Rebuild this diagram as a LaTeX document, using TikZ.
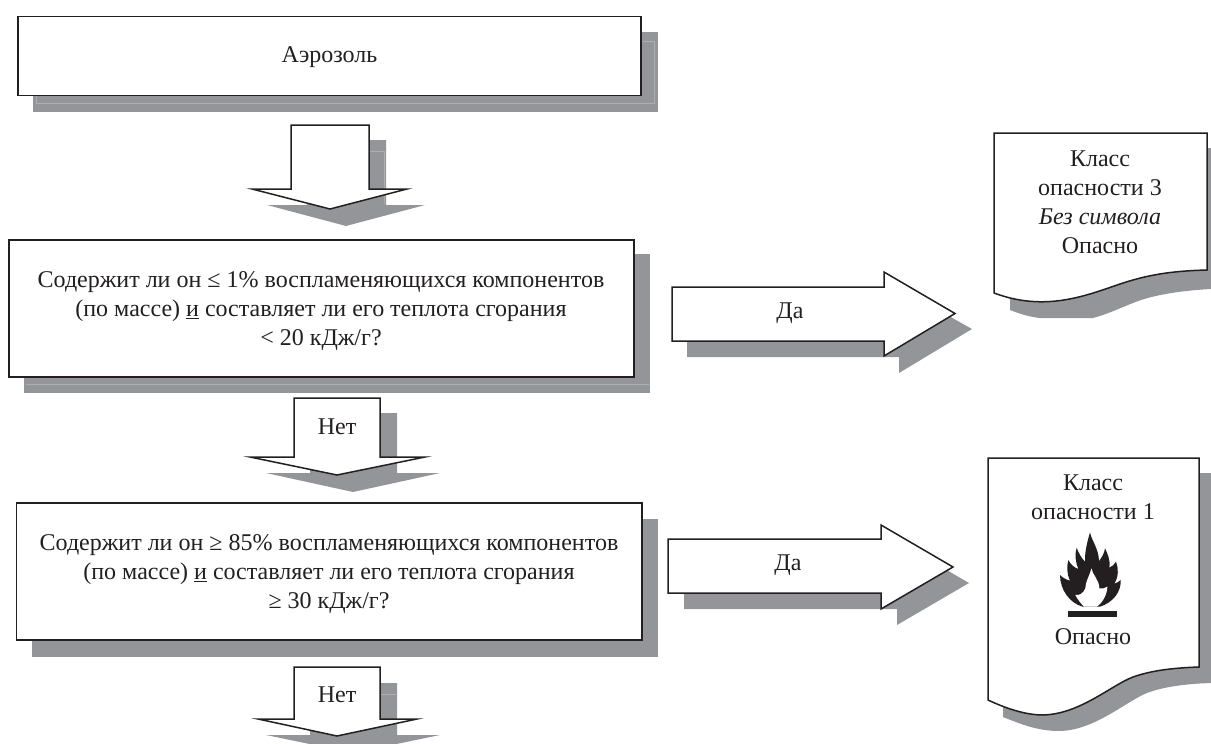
\documentclass[tikz,border=0pt]{standalone}
\usepackage{fontspec}
\setmainfont{Liberation Serif}
\definecolor{shade}{HTML}{939598}
\definecolor{ink}{HTML}{231F20}
\tikzset{
  shadowshape/.style={fill=shade,draw=none},
  frameshape/.style={fill=white,draw=ink,line width=1.5pt,line join=miter},
  label/.style={inner sep=0pt,text=ink,align=center,font=\fontsize{24}{29}\selectfont},
  glint/.style={draw=white,draw opacity=.25,line width=.6pt}
}
\begin{document}
\begin{tikzpicture}[x=1pt,y=-1pt]
\useasboundingbox (0,0) rectangle (1211,744);
\clip (0,0) rectangle (1211,744);
\fill[white] (0,0) rectangle (1211,744);
% box 1
\fill[shadowshape] (33,32) rectangle (658,112);
\draw[glint] (36,41) rectangle (654,103);
\draw[frameshape] (18,16.5) rectangle (641,95.5);
\node[label] (aerosol) at (329.5,57) {Аэрозоль};
% arrow 1
\fill[shadowshape] (307,140) -- (386,140) -- (386,205) -- (425,205) -- (346,226) -- (267,205) -- (307,205) -- cycle;
\draw[glint] (330,151) -- (384,151) -- (384,204);
\draw[frameshape] (291,125) -- (369,125) -- (369,189) -- (407,189) -- (330,209) -- (252,189) -- (291,189) -- cycle;
% box 2
\fill[shadowshape] (24,254) rectangle (650,393);
\draw[glint] (26,384) -- (649,384);
\draw[frameshape] (9,240) rectangle (634,377);
\node[label] (q1) at (321,311) {Содержит ли он ≤ 1\% воспламеняющихся компонентов\\(по массе) \underline{и} составляет ли его теплота сгорания\\< 20 кДж/г?};
% arrow 2
\fill[shadowshape] (310,413) -- (397,413) -- (397,473) -- (440,473) -- (353,492) -- (266,473) -- (310,473) -- cycle;
\draw[frameshape] (294,398) -- (380,398) -- (380,457) -- (425,457) -- (337,475) -- (250,457) -- (294,457) -- cycle;
\node[label] (no1) at (337,427) {Нет};
% box 3
\fill[shadowshape] (32,519) rectangle (658,657);
\draw[frameshape] (16.5,503) rectangle (642,640);
\node[label] (q2) at (329,574) {Содержит ли он ≥ 85\% воспламеняющихся компонентов\\(по массе) \underline{и} составляет ли его теплота сгорания\\≥ 30 кДж/г?};
% arrow 3
\fill[shadowshape] (310,683) -- (397,683) -- (397,735) -- (440,735) -- (353,753) -- (266,735) -- (310,735) -- cycle;
\draw[glint] (340,694) -- (396,694);
\draw[frameshape] (294,667) -- (380,667) -- (380,719) -- (417,719) -- (337,736) -- (258,719) -- (294,719) -- cycle;
\node[label] (no2) at (337,695) {Нет};
% right arrow 1
\fill[shadowshape] (687,303) -- (899,303) -- (899,288) -- (972,329) -- (899,373) -- (899,357) -- (687,357) -- cycle;
\draw[frameshape] (672,287) -- (884,287) -- (884,272) -- (955,313.5) -- (884,356) -- (884,341) -- (672,341) -- cycle;
\node[label] (yes1) at (790,313) {Да};
% right arrow 2
\fill[shadowshape] (684,555) -- (897,555) -- (897,541) -- (969,583) -- (897,625) -- (897,609) -- (684,609) -- cycle;
\draw[frameshape] (668,539) -- (881,539) -- (881,525) -- (953,567) -- (881,609) -- (881,593) -- (668,593) -- cycle;
\node[label] (yes2) at (788,565) {Да};
% doc 1
\fill[shadowshape] (1010,148) -- (1211,148) -- (1211,289) .. controls (1175,291) and (1150,296) .. (1133,303) .. controls (1120,308) and (1108,314) .. (1093,318) -- (1040,318) .. controls (1030,317) and (1020,314) .. (1010,310) -- cycle;
\draw[frameshape] (994,133) -- (1207,133) -- (1207,270) .. controls (1170,271) and (1147,275) .. (1120,284) .. controls (1085,296) and (1045,312) .. (994,293) -- cycle;
\node[label] (cls3) at (1100,202.5) {Класс\\опасности 3\\\textit{Без символа}\\Опасно};
% doc 2
\fill[shadowshape] (1003,473) -- (1211,473) -- (1211,683) .. controls (1180,684) and (1160,688) .. (1147,693) .. controls (1125,702) and (1095,730) .. (1060,731) .. controls (1040,731) and (1025,726) .. (1003,717) -- cycle;
\draw[frameshape] (988,458) -- (1199,458) -- (1199,667) .. controls (1170,668) and (1150,671) .. (1133,677) .. controls (1110,686) and (1080,714) .. (1043,715) .. controls (1025,715) and (1005,708) .. (988,700) -- cycle;
\node[label] (cls1) at (1093,497.5) {Класс\\опасности 1};
\node[label] (danger) at (1093,637) {Опасно};
% flame
\begin{scope}[shift={(1050,525)},x=.3333pt,y=-.3333pt]
\fill[ink] (120,22) .. controls (124,45) and (146,70) .. (147,108) .. controls (155,98) and (163,85) .. (165,70) .. controls (172,85) and (182,105) .. (178,128) .. controls (186,125) and (194,118) .. (198,110) .. controls (206,130) and (206,155) .. (193,176) .. controls (200,174) and (207,170) .. (212,165) .. controls (214,200) and (190,232) .. (150,245) -- (98,245) .. controls (60,235) and (30,195) .. (30,150) .. controls (38,158) and (50,165) .. (60,167) .. controls (50,145) and (50,125) .. (55,105) .. controls (62,118) and (72,128) .. (85,132) .. controls (76,110) and (74,88) .. (80,68) .. controls (86,85) and (95,100) .. (105,110) .. controls (104,80) and (112,50) .. (120,22) -- cycle;
\fill[white] (124,130) .. controls (128,150) and (148,165) .. (148,190) .. controls (156,192) and (165,190) .. (172,185) .. controls (172,205) and (160,232) .. (140,245) -- (102,245) .. controls (92,235) and (82,222) .. (76,210) .. controls (88,212) and (100,205) .. (106,190) .. controls (106,170) and (118,155) .. (124,130) -- cycle;
\fill[ink] (54,258) rectangle (200,275);
\end{scope}
\end{tikzpicture}
\end{document}
